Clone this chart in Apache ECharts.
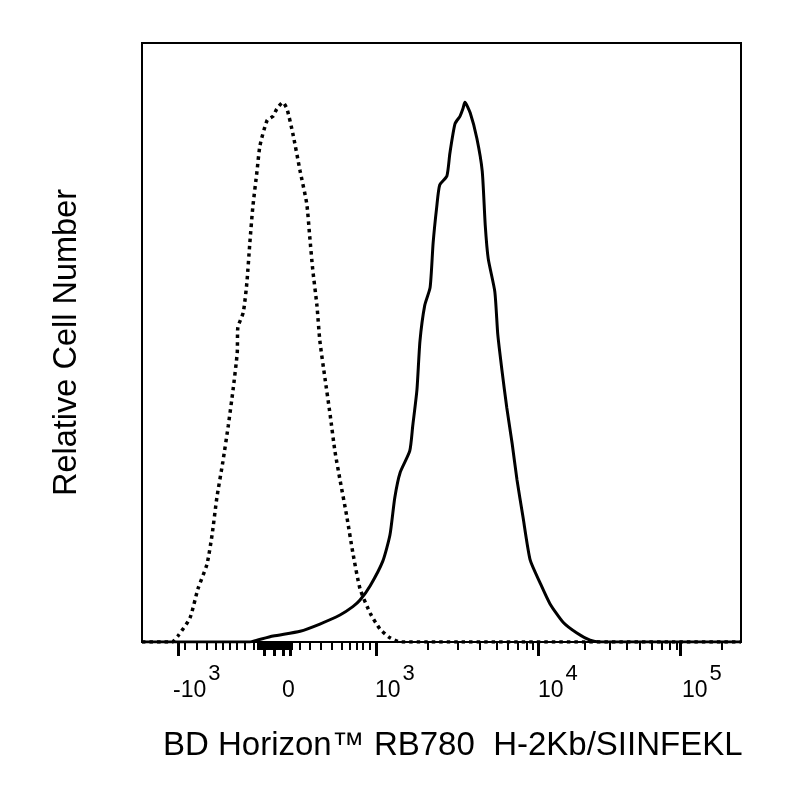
<!DOCTYPE html>
<html>
<head>
<meta charset="utf-8">
<script src="https://cdn.jsdelivr.net/npm/echarts@6/dist/echarts.min.js"></script>
<style>html,body{margin:0;padding:0;background:#fff}#c{width:800px;height:800px}</style>
</head>
<body>
<div id="c"></div>
<script>
// Channel (display scale 0-1000) and relative count (0-100 = full height)
const controlX = [0, 50, 60, 80, 93.5, 108.5, 117, 125, 135, 144, 152, 159, 160, 169, 175, 180, 185, 192, 197, 209, 219, 225, 235, 242, 252, 264, 275, 280, 285, 292, 297, 305.5, 314, 322, 330.5, 342, 352, 364, 381, 397, 414, 431, 1000];
const controlY = [0, 0, 1.0, 4.0, 8.9, 13.0, 17.9, 24.1, 30.1, 36.1, 42.1, 48.3, 52.5, 55.0, 59.9, 66.6, 72.6, 78.6, 82.9, 87.1, 87.8, 89.0, 90.1, 89.0, 84.8, 78.6, 73.2, 67.7, 62.2, 56.2, 50.2, 44.0, 38.0, 31.9, 27.1, 20.9, 14.9, 8.9, 4.8, 2.2, 0.7, 0, 0];
const stainedX = [0, 180, 192, 219, 264, 297, 330.5, 352, 364, 381, 402, 414, 422, 431, 447, 452, 459, 464, 472, 481, 486, 492, 497, 509, 514, 522.5, 531, 536, 539, 548, 559, 568, 573, 578, 589, 594, 601, 609, 618, 626, 636, 648, 664, 681, 703, 726, 748, 765, 1000];
const stainedY = [0, 0, 0.3, 1.0, 1.8, 3.0, 4.5, 5.9, 7.0, 9.4, 13.5, 17.9, 24.1, 28.3, 31.9, 36.1, 42.1, 50.2, 56.2, 59.2, 66.6, 72.6, 76.3, 77.8, 81.6, 86.5, 87.8, 89.1, 90.1, 88.3, 84.1, 78.6, 69.6, 64.0, 58.5, 51.3, 45.3, 39.1, 33.1, 27.1, 20.9, 13.7, 10.0, 6.4, 3.3, 1.5, 0.3, 0, 0];

const majorTicks = [60.1, 203.7, 220.4, 235.4, 247.1, 390.6, 661.1, 898.1];
const minorTicks = [71.8, 91.8, 108.5, 123.5, 135.2, 146.9, 158.6, 171.9, 187.0,
  193.6, 197, 200.3, 203, 205.3, 208, 210.3, 213, 215.4, 218, 220.4, 223, 225.4, 228, 230.4, 233, 235.4, 238, 240.4, 243, 245.4, 248, 250.4,
  263.8, 280.5, 298.8, 317.2, 333.9, 347.2, 358.9, 368.9, 380.6,
  477.5, 527.5, 564.3, 592.6, 611.0, 627.7, 642.7, 652.8,
  739.5, 781.3, 809.7, 831.4, 851.4, 868.1, 881.5, 893.2, 968.3];
const labelAt = [51.8, 233.7, 389, 661, 901.5];
const labelBase = ['-10', '0', '10', '10', '10'];
const labelExp = ['3', '', '3', '4', '5'];

const xTitle = 'BD Horizon\u2122 RB780  H-2Kb/SIINFEKL';
const yTitle = 'Relative Cell Number';

const FONT = 'Liberation Sans, Arial, sans-serif';
const chart = echarts.init(document.getElementById('c'), null, {renderer: 'canvas'});

function zip(xs, ys) { return xs.map((x, i) => [x, ys[i]]); }

chart.setOption({
  animation: false,
  backgroundColor: '#fff',
  grid: {left: 142, right: 59, top: 43, bottom: 158, show: true, borderColor: '#000', borderWidth: 2, backgroundColor: 'transparent'},
  xAxis: [{
    type: 'value', min: 0, max: 1000, position: 'bottom',
    axisLine: {show: true, lineStyle: {color: '#000', width: 2}},
    splitLine: {show: false},
    axisTick: {show: true, customValues: majorTicks, length: 14, lineStyle: {color: '#000', width: 3}},
    axisLabel: {
      show: true, customValues: labelAt, align: 'left', margin: 21,
      formatter: function (v) {
        let bi = 0, bd = Infinity;
        labelAt.forEach((p, i) => { const d = Math.abs(p - v); if (d < bd) { bd = d; bi = i; } });
        let s = '{b|' + labelBase[bi] + '}';
        if (labelExp[bi]) s += '{s|' + labelExp[bi] + '}';
        return s;
      },
      rich: {
        b: {fontFamily: FONT, fontSize: 23, color: '#000', lineHeight: 39, verticalAlign: 'bottom'},
        s: {fontFamily: FONT, fontSize: 22, color: '#000', lineHeight: 39, verticalAlign: 'top', padding: [0, 0, 0, 2]}
      }
    }
  }, {
    type: 'value', min: 0, max: 1000, position: 'bottom', gridIndex: 0,
    axisLine: {show: false},
    splitLine: {show: false},
    axisTick: {show: true, customValues: minorTicks, length: 8, lineStyle: {color: '#000', width: 2}},
    axisLabel: {show: false}
  }],
  yAxis: {
    type: 'value', min: 0, max: 100,
    axisLine: {show: false}, axisTick: {show: false}, axisLabel: {show: false}, splitLine: {show: false},
    name: yTitle, nameLocation: 'middle', nameGap: 58, nameRotate: 90,
    nameTextStyle: {fontFamily: FONT, fontSize: 32.5, color: '#000'}
  },
  graphic: [{
    type: 'text', x: 163, y: 746,
    style: {text: xTitle, fontFamily: FONT, fontSize: 33, fill: '#000', textAlign: 'left', textVerticalAlign: 'middle'}
  }],
  series: [{
    type: 'line', name: 'Control', xAxisIndex: 0, data: zip(controlX, controlY),
    showSymbol: false, smooth: 0.2,
    lineStyle: {color: '#000', width: 3.5, type: [3.5, 4], cap: 'butt'}
  }, {
    type: 'line', name: 'H-2Kb/SIINFEKL', xAxisIndex: 0, data: zip(stainedX, stainedY),
    showSymbol: false, smooth: 0.2,
    lineStyle: {color: '#000', width: 3}
  }]
});
</script>
</body>
</html>
